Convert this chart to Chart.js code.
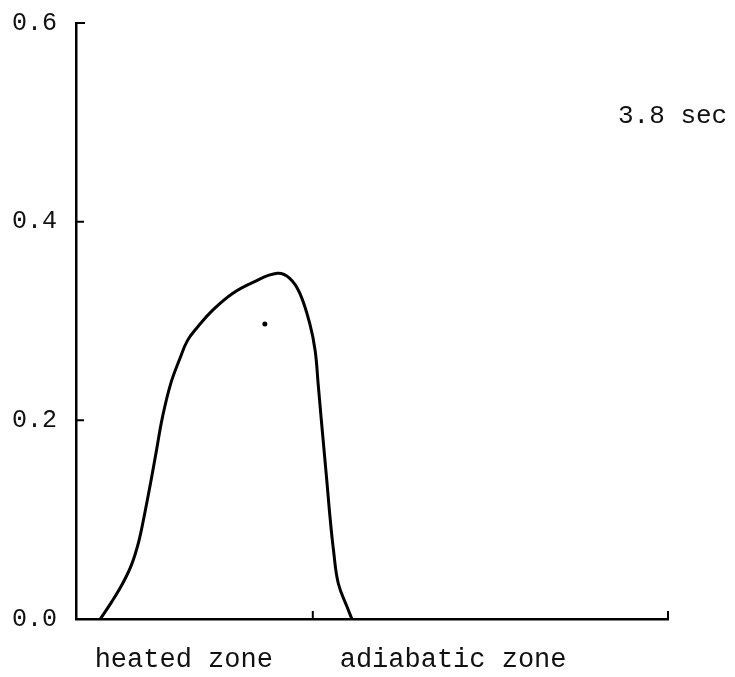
<!DOCTYPE html>
<html>
<head>
<meta charset="utf-8">
<script src="https://cdn.jsdelivr.net/npm/chart.js@4/dist/chart.umd.min.js"></script>
<style>
  html, body { margin: 0; padding: 0; background: #fff; }
  #wrap { width: 735px; height: 677px; }
</style>
</head>
<body>
<div id="wrap"><canvas id="profile"></canvas></div>
<script>
// position along the tube (axis runs 0..10, zone boundary at 4)
var positions = [0.41, 0.60, 0.79, 0.94, 1.06, 1.15, 1.26, 1.36, 1.46, 1.60, 1.76, 1.88, 2.04, 2.31, 2.65, 2.99, 3.40, 3.61, 3.78, 3.95, 4.04, 4.09, 4.14, 4.19, 4.24, 4.29, 4.35, 4.43, 4.58, 4.66]
var values = [0.000, 0.017, 0.036, 0.055, 0.078, 0.103, 0.137, 0.170, 0.203, 0.237, 0.263, 0.280, 0.293, 0.311, 0.328, 0.339, 0.348, 0.343, 0.328, 0.297, 0.270, 0.237, 0.203, 0.170, 0.137, 0.103, 0.069, 0.036, 0.012, 0.000]

// stray mark near the peak
var specX = [3.19]
var specY = [0.297]

var yTicks = [0.0, 0.2, 0.4, 0.6]
var xTickMarks = [4, 10]
var zoneCenters = [1.82, 6.37]
var zoneLabels = ['heated zone', 'adiabatic zone']
var timeLabel = '3.8 sec'

var mono = 'Liberation Mono, Courier New, monospace'

var curve = []
for (var i = 0; i < positions.length; i++) {
  curve.push({ x: positions[i], y: values[i] })
}
var spec = []
for (var j = 0; j < specX.length; j++) {
  spec.push({ x: specX[j], y: specY[j] })
}

// inward tick marks and the time annotation
var marksPlugin = {
  id: 'marks',
  afterDraw: function (chart) {
    var ctx = chart.ctx
    var xs = chart.scales.x
    var ys = chart.scales.y
    var area = chart.chartArea
    ctx.save()
    ctx.strokeStyle = '#000'
    ctx.lineWidth = 2
    ctx.beginPath()
    yTicks.forEach(function (v) {
      if (v === 0) return
      var py = ys.getPixelForValue(v)
      ctx.moveTo(area.left, py)
      ctx.lineTo(area.left + (v === 0.6 ? 9 : 8), py)
    })
    xTickMarks.forEach(function (v) {
      var px = xs.getPixelForValue(v)
      ctx.moveTo(px, area.bottom)
      ctx.lineTo(px, area.bottom - 8)
    })
    ctx.stroke()

    ctx.fillStyle = '#111'
    ctx.font = '26px ' + mono
    ctx.textAlign = 'left'
    ctx.textBaseline = 'alphabetic'
    ctx.fillText(timeLabel, area.right - 50, area.top + 100)
    ctx.restore()
  }
}

new Chart(document.getElementById('profile'), {
  type: 'scatter',
  data: {
    datasets: [{
      data: curve,
      showLine: true,
      borderColor: '#000',
      borderWidth: 3,
      tension: 0.4,
      pointRadius: 0,
      fill: false
    }, {
      data: spec,
      showLine: false,
      pointRadius: 2.5,
      pointBackgroundColor: '#000',
      pointBorderWidth: 0
    }]
  },
  options: {
    responsive: true,
    maintainAspectRatio: false,
    animation: false,
    layout: { padding: { left: 0, right: 67, top: 23, bottom: 0 } },
    plugins: {
      legend: { display: false },
      tooltip: { enabled: false }
    },
    scales: {
      x: {
        type: 'linear',
        min: 0,
        max: 10,
        afterBuildTicks: function (scale) {
          scale.ticks = zoneCenters.map(function (v) { return { value: v } })
        },
        afterFit: function (scale) {
          scale.height = 58
          scale.paddingLeft = 0
          scale.paddingRight = 0
        },
        grid: { display: false, drawTicks: false },
        border: { display: true, color: '#000', width: 2.5 },
        ticks: {
          autoSkip: false,
          maxRotation: 0,
          padding: 25,
          color: '#111',
          font: { family: mono, size: 27 },
          callback: function (v, i) { return zoneLabels[i] }
        }
      },
      y: {
        min: 0,
        max: 0.6,
        afterBuildTicks: function (scale) {
          scale.ticks = yTicks.map(function (v) { return { value: v } })
        },
        afterFit: function (scale) {
          scale.width = 76
          scale.paddingTop = 0
          scale.paddingBottom = 0
        },
        grid: { display: false, drawTicks: false },
        border: { display: true, color: '#000', width: 2.5 },
        ticks: {
          padding: 19,
          color: '#111',
          font: { family: mono, size: 25 },
          callback: function (v) { return v.toFixed(1) }
        }
      }
    }
  },
  plugins: [marksPlugin]
})
</script>
</body>
</html>
